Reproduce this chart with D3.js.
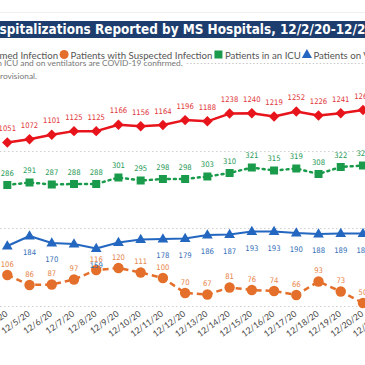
<!DOCTYPE html>
<html><head><meta charset="utf-8">
<script src="https://cdn.jsdelivr.net/npm/d3@7"></script>
<style>html,body{margin:0;padding:0;background:#fff;overflow:hidden}</style>
</head><body>
<svg id="chart" width="365" height="365"></svg>
<script>
// ---- data ----
const dates = ['12/4/20','12/5/20','12/6/20','12/7/20','12/8/20','12/9/20','12/10/20','12/11/20','12/12/20','12/13/20','12/14/20','12/15/20','12/16/20','12/17/20','12/18/20','12/19/20','12/20/20','12/21/20'];
const confirmed = [1051,1072,1101,1125,1125,1166,1156,1164,1196,1188,1238,1240,1219,1252,1226,1241,1261,null];
const icu       = [286,291,287,288,288,301,295,298,298,303,310,321,315,319,308,322,325,null];
const vent      = [164,184,170,168,159,171,177,178,179,186,187,193,193,190,188,189,189,null];
const suspected = [106,86,87,97,116,120,111,100,70,67,81,76,74,66,93,73,50,null];
const ventLabelHidden = ['12/4/20','12/7/20','12/9/20','12/10/20'];
const gridTicks = [0,500,1000];
const titleText = 'COVID-19 Hospitalizations Reported by MS Hospitals, 12/2/20-12/22/20';
const legendItems = ['Patients with Confirmed Infection','Patients with Suspected Infection','Patients in an ICU','Patients on Ventilators'];
const note1 = '*Patients in ICU and on ventilators are COVID-19 confirmed.';
const note2 = '**Data is provisional.';

// ---- setup ----
const W = 365, H = 365;
const svg = d3.select('#chart');
svg.append('rect').attr('width', W).attr('height', H).attr('fill', '#fff');

const C = {
  red: '#e8141c', redL: '#e0363b',
  green: '#1a9b4b', greenL: '#289a58',
  blue: '#2467c0', blueL: '#3570b8',
  orange: '#e46f2a', orangeL: '#e8844a'
};
const labelFont = "'Liberation Sans Narrow', 'DejaVu Sans Condensed', Roboto, sans-serif";
const uiFont = "Lato, 'Open Sans', sans-serif";

// pick a font size so a sample string has the width seen in the reference
function fitSize(family, weight, sample, target) {
  const t = svg.append('text').attr('font-family', family).attr('font-weight', weight)
    .attr('font-size', 10).text(sample);
  const w = t.node().getComputedTextLength();
  t.remove();
  return 10 * target / w;
}
const titleSize  = fitSize(labelFont, 'bold', 'spitalizations Reported by MS Hospitals, 12/2/20-12/2', 366);
const legendSize = fitSize(uiFont, 'normal', 'Patients with Suspected Infection', 142);
const noteSize   = fitSize(uiFont, 'normal', 'ICU and on ventilators are COVID-19 confirmed.', 179);
const axisSize   = fitSize(uiFont, 'normal', '12/10/20', 38);
const labelSize  = fitSize(labelFont, 'normal', '1072', 17.5);

function croppedText(sel, full, visible, xStart, y) {
  const t = sel.append('text').attr('y', y).text(full);
  const idx = full.indexOf(visible);
  const pre = idx > 0 ? t.node().getSubStringLength(0, idx) : 0;
  t.attr('x', xStart - pre);
  return t;
}

// faint top rule
svg.append('line').attr('x1', 0).attr('x2', W).attr('y1', 12.5).attr('y2', 12.5).attr('stroke', '#efefef');

// title bar
svg.append('rect').attr('x', 0).attr('y', 21).attr('width', W).attr('height', 17).attr('fill', '#1d3d6e');
const tg = svg.append('g').attr('fill', '#fff').attr('font-family', labelFont).attr('font-weight', 'bold').attr('font-size', titleSize);
croppedText(tg, titleText, 'spitalizations', -0.5, 34.3);

// ---- scales ----
const x = d3.scalePoint().domain(dates).range([7.3, 7.3 + 22.23 * (dates.length - 1)]);
const yR = d3.scaleLinear().domain([0, 1000]).range([305.5, 150.5]);   // confirmed axis
const yL = d3.scaleLinear().domain([0, 400]).range([328, 128]);        // other series

// gridlines
svg.append('g').selectAll('line').data(gridTicks).join('line')
  .attr('x1', 0).attr('x2', W)
  .attr('y1', d => Math.round(yR(d)) + 0.5).attr('y2', d => Math.round(yR(d)) + 0.5)
  .attr('stroke', '#cfcfcf').attr('stroke-width', 1).attr('stroke-dasharray', '1.5 2.5');

// ---- legend ----
const lg = svg.append('g').attr('font-family', uiFont).attr('font-size', legendSize).attr('fill', '#555');
const legendMarkers = [
  (g, cx, cy) => g.append('path').attr('d', d3.symbol(d3.symbolDiamond2, 60)()).attr('transform', `translate(${cx},${cy})`).attr('fill', C.red),
  (g, cx, cy) => g.append('circle').attr('cx', cx).attr('cy', cy).attr('r', 4.5).attr('fill', C.orange),
  (g, cx, cy) => g.append('rect').attr('x', cx - 4).attr('y', cy - 4).attr('width', 8).attr('height', 8).attr('fill', C.green),
  (g, cx, cy) => g.append('path').attr('d', d3.symbol(d3.symbolTriangle, 45)()).attr('transform', `translate(${cx},${cy + 0.5})`).attr('fill', C.blue)
];
{
  const first = croppedText(lg, legendItems[0], 'med Infection', -0.5, 58.5);
  const fx = +first.attr('x');
  legendMarkers[0](lg, fx - 9, 54.5);
  let xEnd = fx + first.node().getComputedTextLength();
  for (let i = 1; i < legendItems.length; i++) {
    const mx = xEnd + 6;
    legendMarkers[i](lg, mx, 54.5);
    const t = lg.append('text').attr('x', mx + 6.5).attr('y', 58.5).text(legendItems[i]);
    xEnd = mx + 6.5 + t.node().getComputedTextLength();
  }
}

// notes
const ng = svg.append('g').attr('font-family', uiFont).attr('font-size', noteSize).attr('fill', '#777');
const n1 = croppedText(ng, note1, 'ICU and', 4, 66);
const n1End = +n1.attr('x') + n1.node().getComputedTextLength();
svg.append('line').attr('x1', n1End + 4).attr('x2', W).attr('y1', 63.5).attr('y2', 63.5)
  .attr('stroke', '#c8c8c8').attr('stroke-dasharray', '1.5 2');
croppedText(ng, note2, 'rovisional', 0, 79);

// ---- x axis labels ----
svg.append('g').attr('font-family', uiFont).attr('font-size', axisSize).attr('fill', '#444')
  .selectAll('text').data(dates).join('text')
  .attr('text-anchor', 'end')
  .attr('transform', d => `translate(${x(d) + 1},${315}) rotate(-36)`)
  .text(d => d);

// ---- series ----
function idx(arr) { return dates.map((d, i) => ({ d, v: arr[i] })).filter(p => p.v != null); }

const series = [
  { key: 'suspected', data: idx(suspected), y: yL, color: C.orange, lc: C.orangeL, width: 2.5, dash: '6 4', lab: -8.5 },
  { key: 'vent', data: idx(vent), y: yL, color: C.blue, lc: C.blueL, width: 2.2, dash: null, lab: 19 },
  { key: 'icu', data: idx(icu), y: yL, color: C.green, lc: C.greenL, width: 2.5, dash: '2 4', lab: -9.5 },
  { key: 'confirmed', data: idx(confirmed), y: yR, color: C.red, lc: C.redL, width: 2.5, dash: null, lab: -11.5 }
];

series.forEach(s => {
  const line = d3.line().x(p => x(p.d)).y(p => s.y(p.v));
  svg.append('path').datum(s.data).attr('d', line)
    .attr('fill', 'none').attr('stroke', s.color).attr('stroke-width', s.width)
    .attr('stroke-dasharray', s.dash).attr('stroke-linecap', s.key === 'icu' ? 'round' : 'butt')
    .attr('stroke-linejoin', 'round');
});

// markers
svg.append('g').selectAll('circle').data(idx(suspected)).join('circle')
  .attr('cx', p => x(p.d)).attr('cy', p => yL(p.v)).attr('r', 5.2).attr('fill', C.orange);
svg.append('g').selectAll('path').data(idx(vent)).join('path')
  .attr('d', d3.symbol(d3.symbolTriangle, 50)())
  .attr('transform', p => `translate(${x(p.d)},${yL(p.v) + 0.5})`).attr('fill', C.blue);
svg.append('g').selectAll('rect').data(idx(icu)).join('rect')
  .attr('x', p => x(p.d) - 4).attr('y', p => yL(p.v) - 4).attr('width', 8).attr('height', 8).attr('fill', C.green);
svg.append('g').selectAll('path').data(idx(confirmed)).join('path')
  .attr('d', d3.symbol(d3.symbolDiamond2, 70)())
  .attr('transform', p => `translate(${x(p.d)},${yR(p.v)})`).attr('fill', C.red);

// data labels
series.forEach(s => {
  const data = s.key === 'vent' ? s.data.filter(p => !ventLabelHidden.includes(p.d)) : s.data;
  svg.append('g').attr('font-family', labelFont).attr('font-size', labelSize).attr('fill', s.lc)
    .attr('text-anchor', 'middle')
    .selectAll('text').data(data).join('text')
    .attr('x', p => x(p.d)).attr('y', p => s.y(p.v) + s.lab)
    .text(p => p.v);
});
</script>
</body></html>
